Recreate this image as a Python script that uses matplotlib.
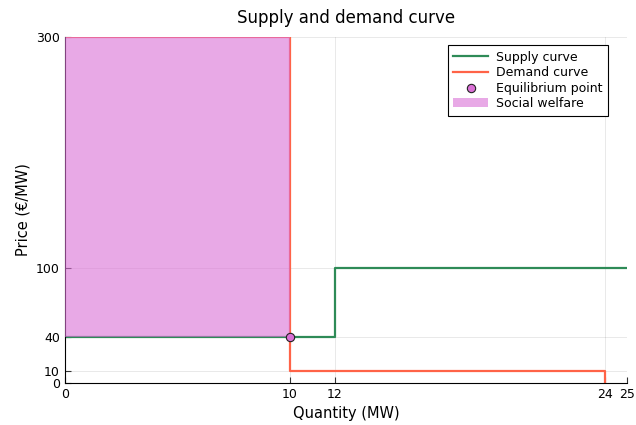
import numpy as np
import matplotlib.pyplot as plt

# Curves (step points)
supply_q = [0, 12, 12, 25]
supply_p = [40, 40, 100, 100]
demand_q = [0, 10, 10, 24, 24]
demand_p = [300, 300, 10, 10, 0]

# Equilibrium and welfare area
eq_q, eq_p = 10, 40
welfare_q = [0, 10]
welfare_lo = [40, 40]
welfare_hi = [300, 300]

xticks = [0, 10, 12, 24, 25]
yticks = [0, 10, 40, 100, 300]

fig = plt.figure(figsize=(6.36, 4.25), dpi=100)
ax = fig.add_axes([0.102, 0.099, 0.884, 0.814])

ax.plot(supply_q, supply_p, color='#2E8B57', lw=1.6, label='Supply curve', zorder=2)
ax.plot(demand_q, demand_p, color='#FF6347', lw=1.6, label='Demand curve', zorder=2)
ax.fill_between(welfare_q, welfare_lo, welfare_hi, color='#DA70D6', alpha=0.6,
                linewidth=0, label='Social welfare', zorder=3)
ax.scatter([eq_q], [eq_p], s=36, color='#DA70D6', edgecolor='#222222', linewidth=0.8,
           label='Equilibrium point', zorder=4)

ax.set_xlim(0, 25)
ax.set_ylim(0, 300)
ax.set_xticks(xticks)
ax.set_yticks(yticks)
ax.tick_params(direction='in', length=4, labelsize=9, color='#333333')
ax.grid(True, color='black', alpha=0.1, linewidth=0.6)
ax.spines['top'].set_visible(False)
ax.spines['right'].set_visible(False)

ax.set_title('Supply and demand curve', fontsize=12, pad=10)
ax.set_xlabel('Quantity (MW)', fontsize=10.5)
ax.set_ylabel('Price (€/MW)', fontsize=10.5)

handles, labels = ax.get_legend_handles_labels()
order = [0, 1, 3, 2]
leg = ax.legend([handles[i] for i in order], [labels[i] for i in order],
                loc='upper right', bbox_to_anchor=(0.966, 0.977), borderaxespad=0,
                fontsize=9, fancybox=False, edgecolor='black', framealpha=1,
                handlelength=2.8, handletextpad=0.6, labelspacing=0.2, borderpad=0.45)
leg.get_frame().set_linewidth(0.8)

fig.savefig('out.png', dpi=100)
